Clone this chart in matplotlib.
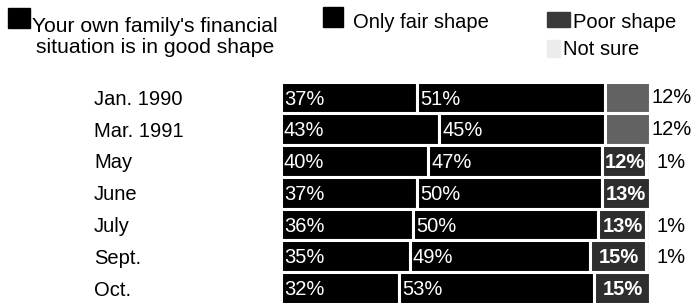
import matplotlib
matplotlib.use("Agg")
import matplotlib.pyplot as plt
from matplotlib.patches import Rectangle

plt.rcParams['font.family'] = ['Liberation Sans', 'DejaVu Sans']

periods = ["Jan. 1990", "Mar. 1991", "May", "June", "July", "Sept.", "Oct."]
good = [37, 43, 40, 37, 36, 35, 32]
fair = [51, 45, 47, 50, 50, 49, 53]
poor = [12, 12, 12, 13, 13, 15, 15]
not_sure = [0, 0, 1, 0, 1, 1, 0]

W, H = 691, 304
fig = plt.figure(figsize=(W / 100, H / 100), dpi=100)

def fx(x):
    return x / W

def fy(y):
    return 1 - y / H

FS = 14.5
LFS = 15.2
pitch = 31.75
top = 97.5 - pitch / 2
bottom = top + pitch * len(periods)
ax = fig.add_axes([fx(280.5), fy(bottom), (649.5 - 280.5) / W, (bottom - top) / H])
ax.set_xlim(0, 100)
ax.set_ylim(len(periods) - 0.5, -0.5)
ax.axis('off')

ys = list(range(len(periods)))
poor_colors = ['#626262', '#626262', '#2e2e2e', '#2e2e2e', '#2e2e2e', '#2e2e2e', '#2e2e2e']
lw = 2.2
left_fair = [g for g in good]
left_poor = [g + f for g, f in zip(good, fair)]
left_ns = [g + f + p for g, f, p in zip(good, fair, poor)]

ax.barh(ys, good, height=1.0, color='black', edgecolor='white', linewidth=lw)
ax.barh(ys, fair, left=left_fair, height=1.0, color='black', edgecolor='white', linewidth=lw)
ax.barh(ys, poor, left=left_poor, height=1.0, color=poor_colors, edgecolor='white', linewidth=lw)
ax.barh(ys, not_sure, left=left_ns, height=1.0, color='#f4f4f4', edgecolor='white', linewidth=lw)

for i in ys:
    ax.text(0.9, i + 0.05, f"{good[i]}%", color='white', fontsize=FS, va='center', ha='left')
    ax.text(left_fair[i] + 0.9, i + 0.05, f"{fair[i]}%", color='white', fontsize=FS, va='center', ha='left')
    if i < 2:
        ax.text(100.6, i + 0.0, f"{poor[i]}%", color='black', fontsize=FS, va='center', ha='left', clip_on=False)
    else:
        ax.text(left_poor[i] + poor[i] / 2 + 0.2, i + 0.05, f"{poor[i]}%", color='white', fontsize=FS,
                fontweight='bold', va='center', ha='center', clip_on=False)
    if not_sure[i]:
        ax.text(101.8, i + 0.05, f"{not_sure[i]}%", color='black', fontsize=FS, va='center', ha='left', clip_on=False)
    fig.text(fx(94), fy(97.5 + i * pitch + 2), periods[i], fontsize=FS, va='center', ha='left')

# legend
fig.patches.append(Rectangle((fx(8), fy(28)), 22 / W, 20 / H, transform=fig.transFigure, color='black'))
fig.text(fx(32), fy(32), "Your own family's financial", fontsize=LFS, va='baseline', ha='left')
fig.text(fx(36), fy(53), "situation is in good shape", fontsize=LFS, va='baseline', ha='left')

fig.patches.append(Rectangle((fx(323), fy(27)), 20 / W, 20 / H, transform=fig.transFigure, color='black'))
fig.text(fx(353), fy(28), "Only fair shape", fontsize=FS, va='baseline', ha='left')

fig.patches.append(Rectangle((fx(547), fy(27)), 23 / W, 15 / H, transform=fig.transFigure, color='#3a3a3a'))
fig.text(fx(573), fy(28), "Poor shape", fontsize=FS, va='baseline', ha='left')

fig.patches.append(Rectangle((fx(547), fy(57)), 13 / W, 17 / H, transform=fig.transFigure, color='#ececec'))
fig.text(fx(563), fy(55), "Not sure", fontsize=FS, va='baseline', ha='left')

fig.savefig("out.png", dpi=100)
